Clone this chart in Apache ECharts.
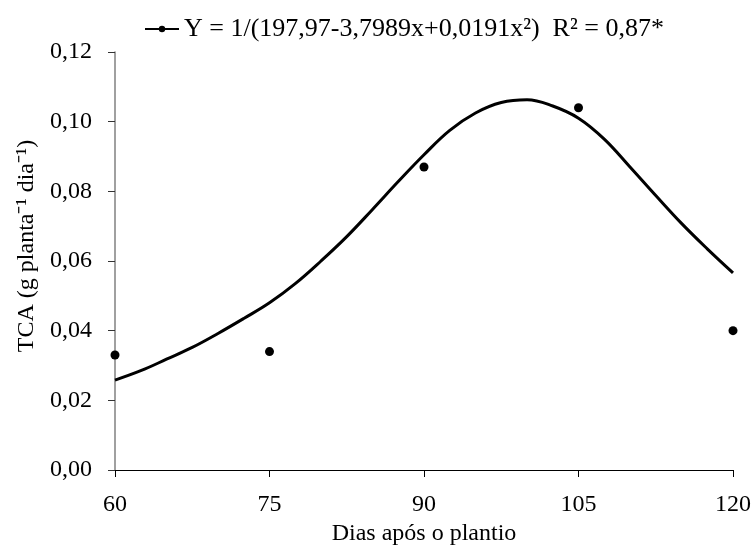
<!DOCTYPE html>
<html>
<head>
<meta charset="utf-8">
<script src="https://cdn.jsdelivr.net/npm/echarts@6/dist/echarts.min.js"></script>
<style>
  html, body { margin: 0; padding: 0; background: #fff; }
  #chart { width: 754px; height: 549px; }
</style>
</head>
<body>
<div id="chart"></div>
<script>
  // observed points
  var dias = [60, 75, 90, 105, 120];
  var tca = [0.033, 0.034, 0.087, 0.104, 0.040];

  // fitted curve
  var curveX = [60, 62.5, 65, 67.5, 70, 72.5, 75, 77.5, 80, 82.5, 85, 87.5, 90,
                92.5, 95, 97.5, 100, 102.5, 105, 107.5, 110, 112.5, 115, 117.5, 120];
  var curveY = [0.0258, 0.0285, 0.0318, 0.0352, 0.0392, 0.0435, 0.0480, 0.0535, 0.0600,
                0.0670, 0.0748, 0.0828, 0.0905, 0.0975, 0.1025, 0.1055, 0.1063, 0.1045,
                0.1010, 0.0950, 0.0870, 0.0788, 0.0708, 0.0635, 0.0566];

  var legendText = 'Y = 1/(197,97-3,7989x+0,0191x²)  R² = 0,87*';
  var font = 'Liberation Serif, Times New Roman, serif';

  var chart = echarts.init(document.getElementById('chart'));

  var pts = [];
  for (var i = 0; i < dias.length; i++) pts.push([dias[i], tca[i]]);
  var line = [];
  for (var k = 0; k < curveX.length; k++) line.push([curveX[k], curveY[k]]);

  chart.setOption({
    backgroundColor: '#fff',
    animation: false,
    textStyle: { fontFamily: font, color: '#000' },
    legend: {
      top: 11,
      left: 139,
      itemWidth: 34,
      itemHeight: 8,
      itemGap: 5,
      textStyle: { fontFamily: font, fontSize: 26, color: '#000' },
      data: [legendText]
    },
    grid: { left: 115, right: 21, top: 52, bottom: 79, outerBoundsMode: 'none', containLabel: false },
    xAxis: {
      type: 'value',
      min: 60,
      max: 120,
      interval: 15,
      name: 'Dias após o plantio',
      nameLocation: 'middle',
      nameGap: 50,
      nameTextStyle: { fontFamily: font, fontSize: 24, color: '#000' },
      splitLine: { show: false },
      axisLine: { lineStyle: { color: '#000', width: 1 } },
      axisTick: { show: true, inside: false, length: 7, lineStyle: { color: '#000' } },
      axisLabel: { fontFamily: font, fontSize: 24, color: '#000', margin: 23 }
    },
    yAxis: {
      type: 'value',
      min: 0,
      max: 0.12,
      interval: 0.02,
      name: 'TCA (g planta⁻¹ dia⁻¹)',
      nameLocation: 'middle',
      nameGap: 73,
      nameRotate: 90,
      nameTextStyle: { fontFamily: font, fontSize: 24, color: '#000', padding: [0, 0, 0, 30] },
      splitLine: { show: false },
      axisLine: { show: true, lineStyle: { color: '#808080', width: 1.5 } },
      axisTick: { show: true, inside: false, length: 7, lineStyle: { color: '#333' } },
      axisLabel: {
        fontFamily: font, fontSize: 24, color: '#000', margin: 23,
        formatter: function (v) { return v.toFixed(2).replace('.', ','); }
      }
    },
    series: [
      {
        name: legendText,
        type: 'line',
        data: line,
        smooth: 0.4,
        symbol: 'circle',
        symbolSize: 7,
        showSymbol: false,
        itemStyle: { color: '#000' },
        lineStyle: { color: '#000', width: 3 }
      },
      {
        name: 'pontos',
        type: 'scatter',
        data: pts,
        symbol: 'circle',
        symbolSize: 9,
        itemStyle: { color: '#000', opacity: 1 }
      }
    ]
  });
</script>
</body>
</html>
